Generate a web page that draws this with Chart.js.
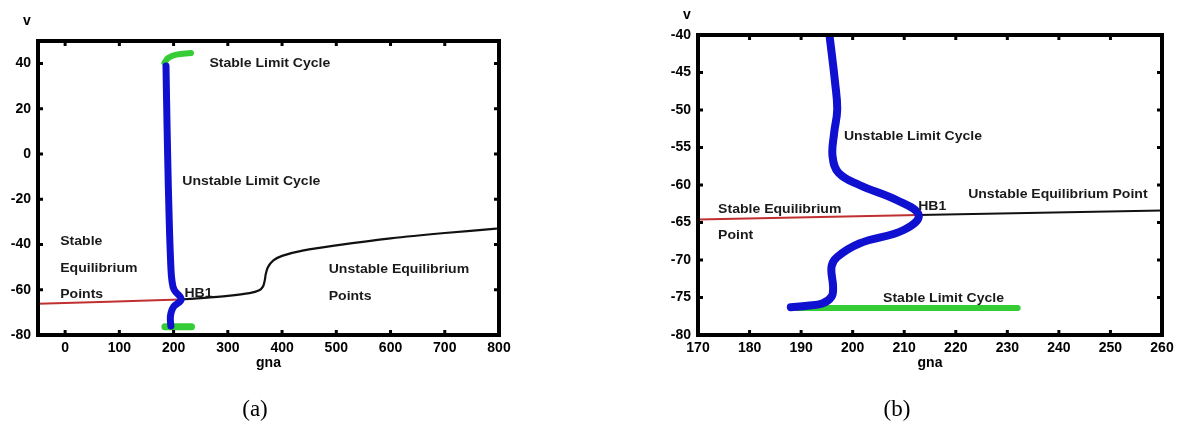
<!DOCTYPE html>
<html lang="en">
<head>
<meta charset="UTF-8">
<title>gna - v bifurcation</title>
<script src="https://cdn.jsdelivr.net/npm/chart.js"></script>
<style>
  body { margin: 0; background: #fff; width: 1183px; height: 424px; position: relative; overflow: hidden; }
  canvas { position: absolute; top: 0; }
  #chartA { left: 0; }
  #chartB { left: 660px; }
  .cap { position: absolute; top: 396px; font-family: "Liberation Serif", "Times New Roman", serif; font-size: 23px; color: #000; transform: translateX(-50%); }
</style>
</head>
<body>
<canvas id="chartA" width="520" height="424"></canvas>
<canvas id="chartB" width="523" height="424"></canvas>
<div class="cap" style="left:255px">(a)</div>
<div class="cap" style="left:897px">(b)</div>

<script>
// ---- panel (a) ----
const aTicksX = [0, 100, 200, 300, 400, 500, 600, 700, 800];
const aTicksY = [-80, -60, -40, -20, 0, 20, 40];

const aRedGna = [-50, 80, 212];
const aRedV = [-66.2, -65.3, -64.3];

const aBlackGna = [212, 250, 300, 340, 358, 365, 368, 370, 374, 384, 400, 440, 500, 600, 700, 795];
const aBlackV = [-64.3, -63.7, -62.7, -61.5, -60.2, -58.5, -56, -53, -50, -47, -45, -42.6, -40.4, -37.3, -34.9, -33];

const aBlueGna = [186, 187, 189, 192, 195, 197, 201, 214, 200, 195, 194, 195];
const aBlueV = [39, 25, 0, -30, -50, -56, -60, -64.2, -67.5, -70.5, -73, -76];

const aGreenTopGna = [183, 190, 205, 232];
const aGreenTopV = [40.3, 42.5, 44, 44.7];
const aGreenBotGna = [184, 233];
const aGreenBotV = [-76.4, -76.4];

const aNotes = [
  { text: 'Stable Limit Cycle', x: 266, y: 40 },
  { text: 'Unstable Limit Cycle', x: 216, y: -12.2 },
  { text: 'Stable', x: -9, y: -38.5 },
  { text: 'Equilibrium', x: -9, y: -50.4 },
  { text: 'Points', x: -9, y: -62.2 },
  { text: 'HB1', x: 220, y: -61.5 },
  { text: 'Unstable Equilibrium', x: 486, y: -51.2 },
  { text: 'Points', x: 486, y: -63.1 }
];

// ---- panel (b) ----
const bTicksX = [170, 180, 190, 200, 210, 220, 230, 240, 250, 260];
const bTicksY = [-80, -75, -70, -65, -60, -55, -50, -45, -40];

const bRedGna = [170, 212.8];
const bRedV = [-64.6, -64.0];

const bBlackGna = [212.8, 260];
const bBlackV = [-64.0, -63.4];

const bBlueGna = [195.5, 196.6, 197.0, 196.4, 196.1, 197.3, 201.3, 208.5, 212.8, 209.9, 201.3, 197.0, 195.9, 196.2, 195.9, 194.1, 191.2, 188.0];
const bBlueV = [-40, -46.4, -50, -53.1, -56.2, -58.4, -60, -62, -64, -66, -67.8, -69.6, -70.9, -73.6, -74.9, -75.8, -76.1, -76.3];

const bGreenGna = [188, 232];
const bGreenV = [-76.4, -76.4];

const bNotes = [
  { text: 'Unstable Limit Cycle', x: 198.3, y: -53.5 },
  { text: 'Unstable Equilibrium Point', x: 222.4, y: -61.3 },
  { text: 'Stable Equilibrium', x: 173.9, y: -63.2 },
  { text: 'Point', x: 173.9, y: -66.7 },
  { text: 'HB1', x: 212.7, y: -62.8 },
  { text: 'Stable Limit Cycle', x: 205.9, y: -75.1 }
];

const xTitle = 'gna';
const yTitle = 'v';

const FONT = '"Liberation Sans", Arial, sans-serif';
Chart.defaults.font.family = FONT;

const BLUE = '#1010d0';
const GREEN = '#35cc35';
const RED = '#c03030';
const BLACK = '#111';

function pts(xs, ys) {
  return xs.map((v, i) => ({ x: v, y: ys[i] }));
}

function line(xs, ys, color, width, tension) {
  return {
    data: pts(xs, ys),
    showLine: true,
    borderColor: color,
    borderWidth: width,
    borderCapStyle: 'round',
    borderJoinStyle: 'round',
    tension: tension,
    pointRadius: 0,
    clip: 0
  };
}

// frame, inward ticks, annotations and axis titles
function framePlugin(notes) {
  return {
    id: 'frame',
    afterDatasetsDraw(chart) {
      const { ctx, chartArea: a } = chart;
      const x = chart.scales.x, y = chart.scales.y;
      ctx.save();
      ctx.strokeStyle = '#000';
      ctx.lineWidth = 3;
      ctx.beginPath();
      x.ticks.forEach(t => {
        const px = x.getPixelForValue(t.value);
        ctx.moveTo(px, a.bottom); ctx.lineTo(px, a.bottom - 5);
        ctx.moveTo(px, a.top); ctx.lineTo(px, a.top + 5);
      });
      y.ticks.forEach(t => {
        const py = y.getPixelForValue(t.value);
        ctx.moveTo(a.left, py); ctx.lineTo(a.left + 5, py);
        ctx.moveTo(a.right, py); ctx.lineTo(a.right - 5, py);
      });
      ctx.stroke();
      ctx.lineWidth = 4;
      ctx.strokeRect(a.left, a.top, a.right - a.left, a.bottom - a.top);

      ctx.fillStyle = '#1a1a1a';
      ctx.textBaseline = 'middle';
      ctx.textAlign = 'left';
      ctx.font = 'bold 13px ' + FONT;
      notes.forEach(n => {
        ctx.save();
        ctx.translate(x.getPixelForValue(n.x), y.getPixelForValue(n.y));
        ctx.scale(1.08, 1);
        ctx.fillText(n.text, 0, 0);
        ctx.restore();
      });

      ctx.fillStyle = '#000';
      ctx.textAlign = 'center';
      ctx.font = 'bold 14px ' + FONT;
      ctx.fillText(yTitle, a.left - 11, a.top - 20);
      ctx.fillText(xTitle, (a.left + a.right) / 2, a.bottom + 28);
      ctx.restore();
    }
  };
}

function axis(min, max, tickVals, isX) {
  return {
    type: 'linear',
    min: min,
    max: max,
    grid: { display: false, drawTicks: false },
    border: { display: false },
    ticks: {
      padding: isX ? 5 : 7,
      color: '#000',
      autoSkip: false,
      maxRotation: 0,
      font: { size: 14, weight: 'bold' }
    },
    afterBuildTicks: s => { s.ticks = tickVals.map(v => ({ value: v })); },
    afterFit: s => {
      if (isX) s.height = 89; else s.width = 38;
    }
  };
}

function makeChart(id, datasets, xr, yr, ticksX, ticksY, topPad, notes) {
  return new Chart(document.getElementById(id), {
    type: 'scatter',
    data: { datasets: datasets },
    options: {
      responsive: false,
      animation: false,
      events: [],
      layout: { padding: { left: 0, right: 21, top: topPad, bottom: 0 } },
      plugins: { legend: { display: false }, tooltip: { enabled: false } },
      scales: {
        x: axis(xr[0], xr[1], ticksX, true),
        y: axis(yr[0], yr[1], ticksY, false)
      }
    },
    plugins: [framePlugin(notes)]
  });
}

makeChart('chartA', [
  line(aBlueGna, aBlueV, BLUE, 7, 0.4),
  line(aGreenTopGna, aGreenTopV, GREEN, 6, 0.4),
  line(aGreenBotGna, aGreenBotV, GREEN, 7, 0),
  line(aBlackGna, aBlackV, BLACK, 2.2, 0.3),
  line(aRedGna, aRedV, RED, 2, 0)
], [-50, 800], [-80, 50], aTicksX, aTicksY, 41, aNotes);

makeChart('chartB', [
  line(bBlueGna, bBlueV, BLUE, 8, 0.4),
  line(bGreenGna, bGreenV, GREEN, 6, 0),
  line(bBlackGna, bBlackV, BLACK, 2, 0),
  line(bRedGna, bRedV, RED, 2, 0)
], [170, 260], [-80, -40], bTicksX, bTicksY, 35, bNotes);
</script>
</body>
</html>
